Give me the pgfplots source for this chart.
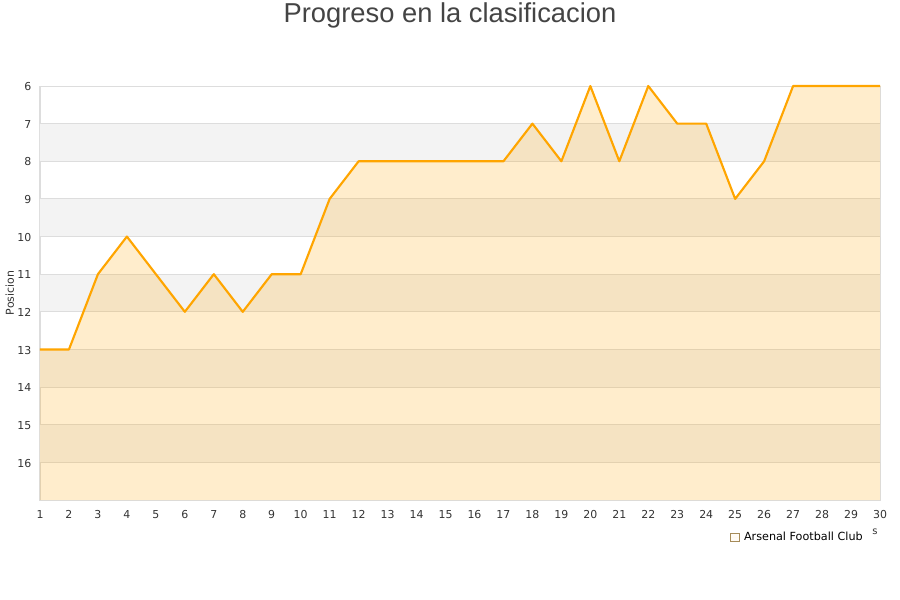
\documentclass[border=0pt]{standalone}
\usepackage{fontspec}
\setmainfont{DejaVu Sans}
\newfontfamily\titlefont{Liberation Sans}
\usepackage{pgfplots}
\pgfplotsset{compat=1.18}

\definecolor{gridc}{HTML}{DDDDDD}
\definecolor{bandc}{HTML}{F3F3F3}
\definecolor{linec}{HTML}{FFA500}
\definecolor{txtc}{HTML}{333333}
\definecolor{titc}{HTML}{444444}

\begin{document}
\begin{tikzpicture}
\path[use as bounding box] (0,0) rectangle (675pt,450pt);
\node[font=\titlefont\fontsize{20.5}{24}\selectfont, text=titc] at (337.5pt,438.75pt) {Progreso en la clasificacion};
\begin{axis}[
  at={(30pt,75pt)}, anchor=south west,
  width=630pt, height=310.5pt, scale only axis,
  xmin=1, xmax=30, ymin=6, ymax=17,
  y dir=reverse,
  clip=false,
  xtick={1,...,30}, ytick={6,...,16},
  major tick length=0pt,
  axis line style={gridc, line width=0.75pt},
  tick label style={font=\fontsize{8.2}{10}\selectfont, text=txtc},
  /pgf/number format/assume math mode=true,
  yticklabel style={xshift=-3pt, yshift=-0.5pt},
  xticklabel style={yshift=-4pt},
  ylabel={Posicion},
  ylabel style={font=\fontsize{8.2}{10}\selectfont, text=txtc, at={(axis description cs:-0.036,0.5)}, anchor=center},
  legend style={at={(0.816,-0.09)}, anchor=west, draw=none, fill=none,
    font=\fontsize{8.4}{10}\selectfont},
  legend image code/.code={
    \draw[fill=linec!20, draw=gray!70!linec, line width=0.5pt] (0pt,-3.4pt) rectangle (6.6pt,3.2pt);
    \path (0pt,0pt) -- (8.5pt,0pt);},
]
% alternating background bands
\addplot[fill=bandc, draw=none, forget plot] coordinates {(1,7) (30,7) (30,8) (1,8) (1,7)};
\addplot[fill=bandc, draw=none, forget plot] coordinates {(1,9) (30,9) (30,10) (1,10) (1,9)};
\addplot[fill=bandc, draw=none, forget plot] coordinates {(1,11) (30,11) (30,12) (1,12) (1,11)};
\addplot[fill=bandc, draw=none, forget plot] coordinates {(1,13) (30,13) (30,14) (1,14) (1,13)};
\addplot[fill=bandc, draw=none, forget plot] coordinates {(1,15) (30,15) (30,16) (1,16) (1,15)};
% horizontal grid lines
\foreach \g in {6,...,16} {
  \edef\temp{\noexpand\addplot[gridc, line width=0.75pt, forget plot] coordinates {(1,\g) (30,\g)};}
  \temp
}
% area under the line
\addplot[fill=linec, fill opacity=0.2, draw=none] coordinates {
  (1,13) (2,13) (3,11) (4,10) (5,11) (6,12) (7,11) (8,12) (9,11) (10,11)
  (11,9) (12,8) (13,8) (14,8) (15,8) (16,8) (17,8) (18,7) (19,8) (20,6)
  (21,8) (22,6) (23,7) (24,7) (25,9) (26,8) (27,6) (28,6) (29,6) (30,6)
  (30,17) (1,17) (1,13)};
\addlegendentry{Arsenal Football Club}
% position line
\addplot[linec, line width=1.6pt, line join=round, forget plot] coordinates {
  (1,13) (2,13) (3,11) (4,10) (5,11) (6,12) (7,11) (8,12) (9,11) (10,11)
  (11,9) (12,8) (13,8) (14,8) (15,8) (16,8) (17,8) (18,7) (19,8) (20,6)
  (21,8) (22,6) (23,7) (24,7) (25,9) (26,8) (27,6) (28,6) (29,6) (30,6)};
\end{axis}
\node[font=\fontsize{7.5}{9}\selectfont, text=txtc] at (656.25pt,51.5pt) {s};
\end{tikzpicture}
\end{document}
